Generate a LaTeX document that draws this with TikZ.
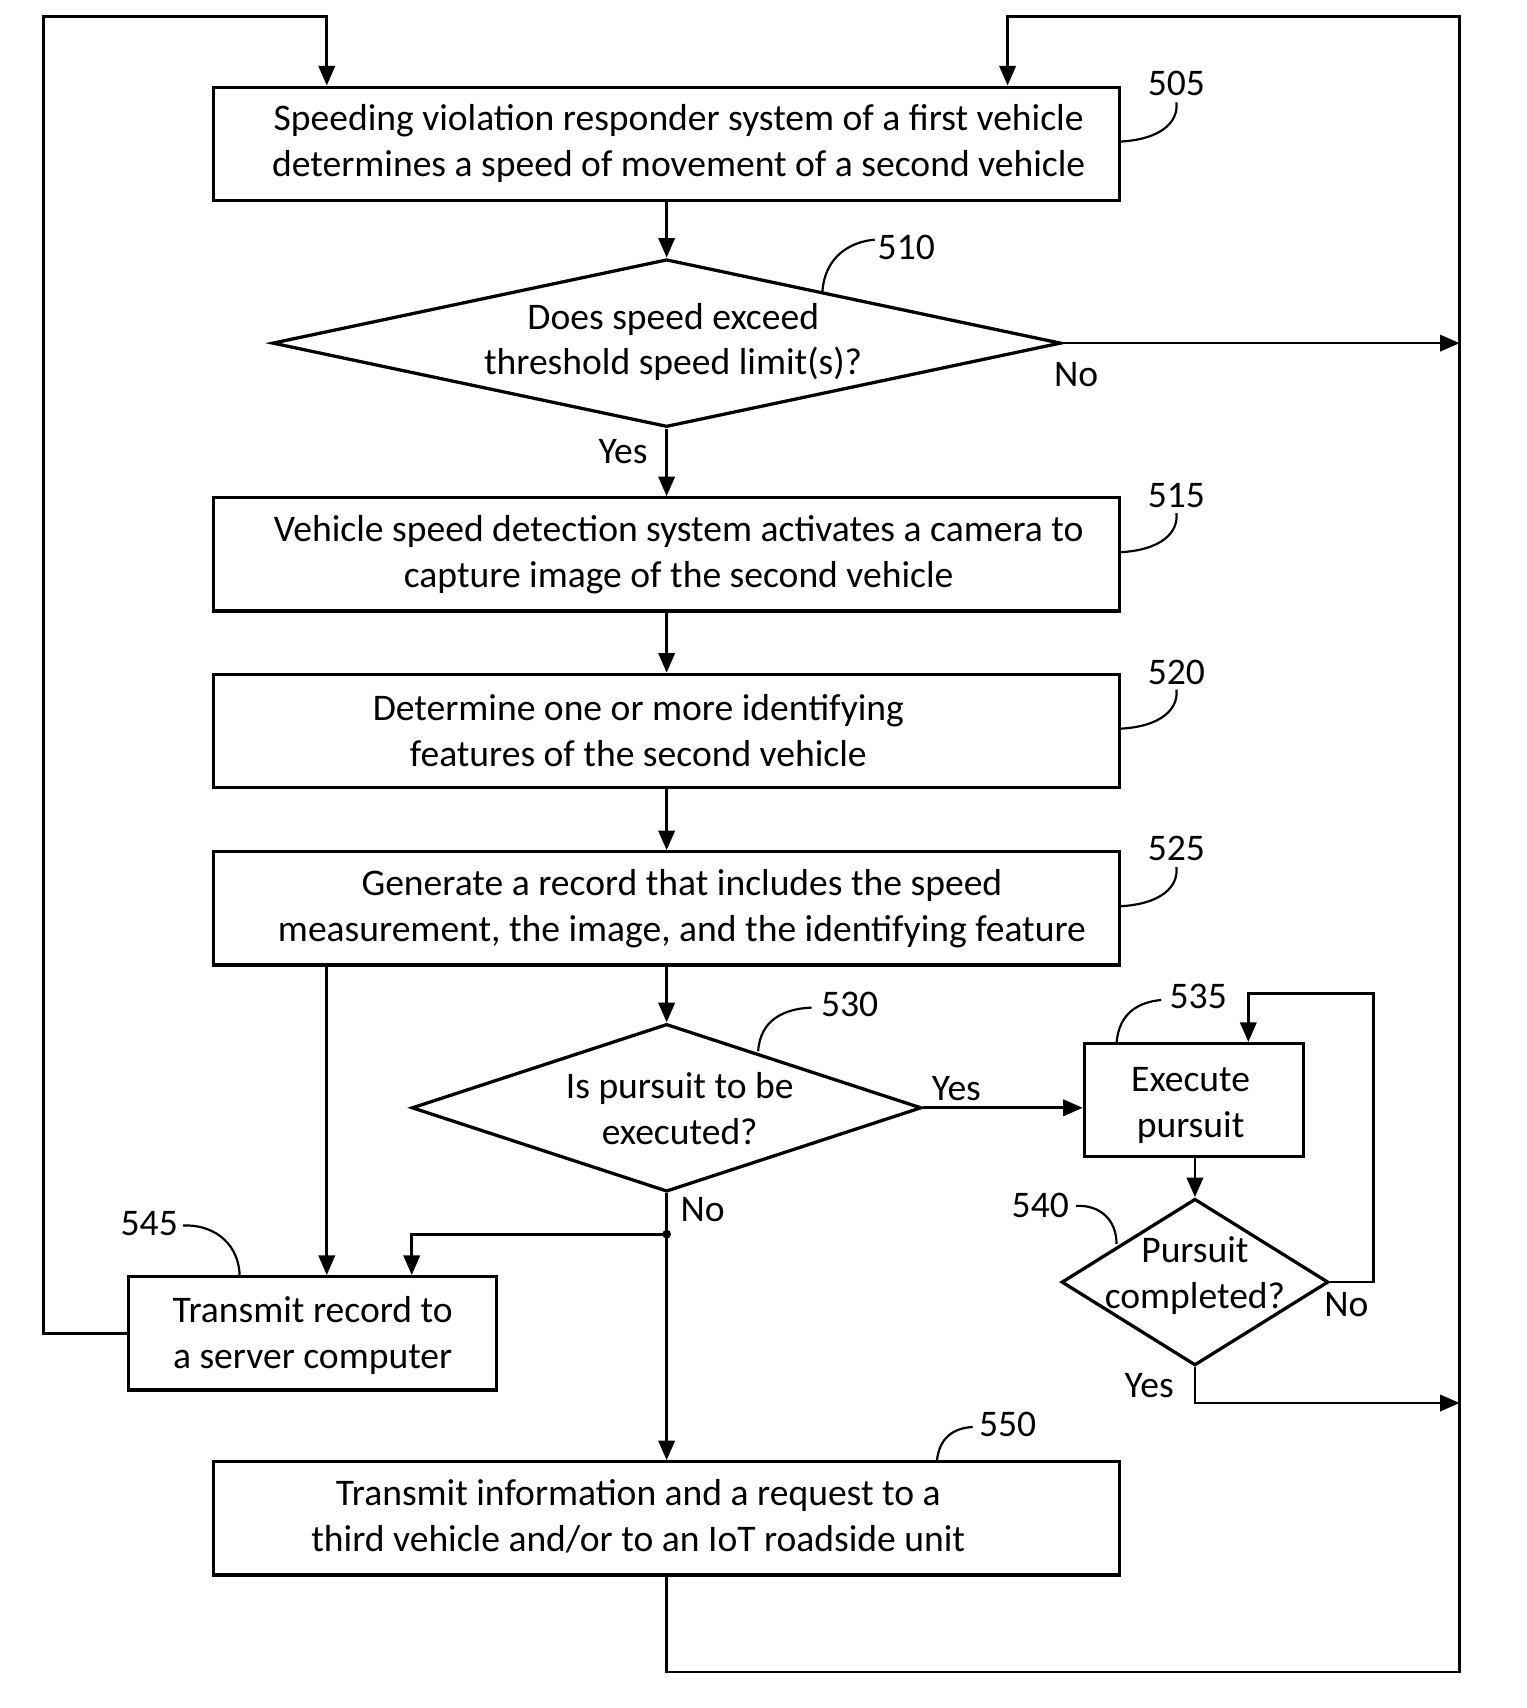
\documentclass[tikz,border=0pt]{standalone}
\usepackage{fontspec}
\setmainfont{Carlito}
\usetikzlibrary{shapes.geometric,arrows.meta}
\tikzset{
    every node/.style={font=\fontsize{34.5}{42}\selectfont},
    stepbox/.style={draw, line width=3pt, minimum width=832pt, minimum height=104pt, inner sep=0pt},
    decision/.style={draw, diamond, line width=3pt, inner sep=0pt},
    steptext/.style={inner sep=0pt, align=center},
    flow/.style={line width=2.5pt, -{Triangle[length=18pt,width=15pt]}},
    leader/.style={line width=2pt},
    reftext/.style={inner sep=0pt},
}
\begin{document}
\begin{tikzpicture}[x=1pt,y=-1pt]
            \useasboundingbox (0,0) rectangle (1401,1568);
            \coordinate (rl) at (40,15);
            \coordinate (rr) at (1340,15);
            \coordinate (rb) at (1340,1535);
            \coordinate (split) at (612,1133);

            \node[stepbox] (b505) at (612,132) {};
            \node[steptext] (t505) at (623,132) {Speeding violation responder system of a first vehicle\\determines a speed of movement of a second vehicle};
            \node[decision, minimum width=724pt, minimum height=154pt] (d510) at (612,315) {};
            \node[steptext] (t510) at (618,314) {Does speed exceed\\threshold speed limit(s)?};
            \node[stepbox] (b515) at (612,509) {};
            \node[steptext] (t515) at (623,509) {Vehicle speed detection system activates a camera to\\capture image of the second vehicle};
            \node[stepbox] (b520) at (612,671) {};
            \node[steptext] (t520) at (586,671) {Determine one or more identifying\\features of the second vehicle};
            \node[stepbox] (b525) at (612,834) {};
            \node[steptext] (t525) at (626,834) {Generate a record that includes the speed\\measurement, the image, and the identifying feature};
            \node[decision, minimum width=468pt, minimum height=154pt] (d530) at (612,1017) {};
            \node[steptext] (t530) at (624,1018) {Is pursuit to be\\executed?};
            \node[stepbox, minimum width=201pt] (b535) at (1096,1010) {};
            \node[steptext] (t535) at (1093,1015) {Execute\\pursuit};
            \node[decision, minimum width=245pt, minimum height=153pt] (d540) at (1097,1177) {};
            \node[steptext] (t540) at (1097,1171) {Pursuit\\completed?};
            \node[stepbox, minimum width=338pt] (b545) at (287,1224) {};
            \node[steptext] (t545) at (287,1226) {Transmit record to\\a server computer};
            \node[stepbox] (b550) at (612,1394) {};
            \node[steptext] (t550) at (586,1392) {Transmit information and a request to a\\third vehicle and/or to an IoT roadside unit};

            \node[reftext] (l505) at (1080,77) {505};
            \node[reftext] (l510) at (832,227) {510};
            \node[reftext] (l515) at (1080,455) {515};
            \node[reftext] (l520) at (1080,617) {520};
            \node[reftext] (l525) at (1080,779) {525};
            \node[reftext] (l530) at (780,922) {530};
            \node[reftext] (l535) at (1100,915) {535};
            \node[reftext] (l540) at (955,1107) {540};
            \node[reftext] (l545) at (137,1123) {545};
            \node[reftext] (l550) at (925,1308) {550};

            \draw[leader] (1028,130) .. controls (1066,128) and (1082,112) .. (1080,94);
            \draw[leader] (1028,507) .. controls (1066,505) and (1082,489) .. (1080,471);
            \draw[leader] (1028,669) .. controls (1066,667) and (1082,651) .. (1080,633);
            \draw[leader] (1028,832) .. controls (1066,830) and (1082,814) .. (1080,796);
            \draw[leader] (755,268) .. controls (757,236) and (780,222) .. (803,220);
            \draw[leader] (696,965) .. controls (698,936) and (720,926) .. (745,925);
            \draw[leader] (1025,958) .. controls (1027,930) and (1045,920) .. (1066,918);
            \draw[leader] (988,1107) .. controls (1010,1106) and (1025,1120) .. (1025,1142);
            \draw[leader] (168,1125) .. controls (200,1124) and (220,1145) .. (220,1172);
            \draw[leader] (860,1342) .. controls (862,1320) and (875,1311) .. (893,1310);

            \draw[flow] (b505.south) -- (d510.north);
            \draw[flow] (d510.south) -- (b515.north);
            \draw[flow] (d510.east) -- (d510.east -| rr);
            \draw[flow] (b515.south) -- (b520.north);
            \draw[flow] (b520.south) -- (b525.north);
            \draw[flow] (b525.south) -- (d530.north);
            \draw[flow] (b525.south -| 300,0) -- (b545.north -| 300,0);
            \draw[flow] (d530.east) -- (d530.east -| b535.west);
            \draw[flow] (b535.south -| d540.north) -- (d540.north);
            \draw[flow] (d540.east) -| (1261,912) -| (b535.north -| 1146,0);
            \draw[flow] (d540.south) |- (1340,1288);
            \draw[flow] (d530.south) -- (b550.north);
            \fill (split) circle (4pt);
            \draw[flow] (split) -| (b545.north -| 378,0);
            \draw[flow] (b545.west) -| (rl) -| (b505.north -| 300,0);
            \draw[flow] (b550.south) |- (rb) -- (rr) -| (b505.north -| 925,0);

            \node[reftext] (no510) at (988,344) {No};
            \node[reftext] (yes510) at (572,415) {Yes};
            \node[reftext] (yes530) at (878,999) {Yes};
            \node[reftext] (no530) at (645,1110) {No};
            \node[reftext] (no540) at (1236,1198) {No};
            \node[reftext] (yes540) at (1055,1272) {Yes};
\end{tikzpicture}
\end{document}
